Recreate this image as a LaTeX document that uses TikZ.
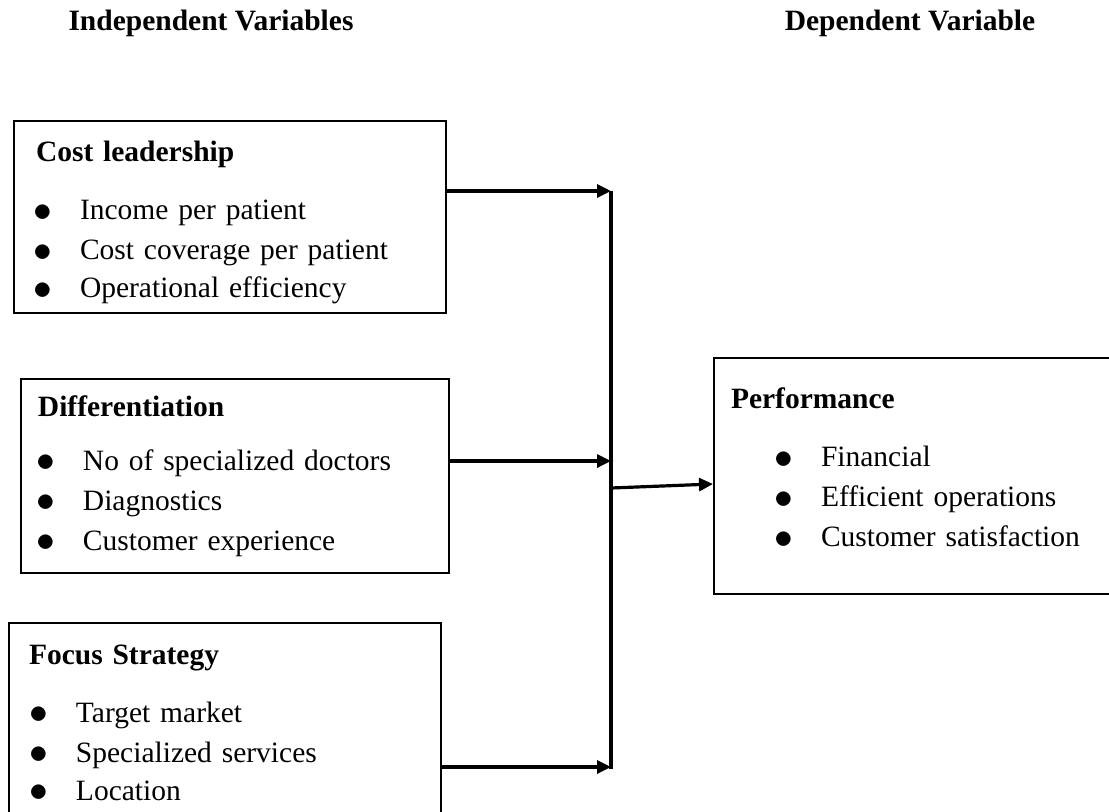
\documentclass[tikz,border=0pt]{standalone}
\usepackage{fontspec}
\setmainfont{Liberation Serif}
\usetikzlibrary{arrows.meta}
\newcommand{\itm}[2][0pt]{\hspace*{#1}\makebox[22pt][l]{\hspace*{-1.5pt}\raisebox{-0.6pt}{\scalebox{1.3}{$\bullet$}}}#2}

\begin{document}
\begin{tikzpicture}[x=0.5pt,y=-0.5pt,font=\fontsize{14.75}{20}\selectfont,
      head/.style={font=\fontsize{14.75}{20}\selectfont\bfseries,anchor=base,inner sep=0pt},
      varbox/.style={draw,line width=1pt,anchor=north west,align=left,inner ysep=0pt},
      arr/.style={-{Triangle[length=7pt,width=6.5pt]},line width=1.6pt}]
    \useasboundingbox (0,0) rectangle (1109,811);
    \node[head] (indep) at (211,30) {Independent Variables};
    \node[head] (dep) at (910,30) {Dependent Variable};
    % independent variables
    \node[varbox,text width=194pt,inner xsep=11pt,minimum height=96pt] (cost) at (13,120) {\rule{0pt}{16pt}\textbf{Cost leadership}\\[9pt]\itm{Income per patient}\\\itm{Cost coverage per patient}\\[-1pt]\itm{Operational efficiency}};
    \node[varbox,text width=197pt,inner xsep=8.5pt,minimum height=97pt] (diff) at (20,378) {\textbf{Differentiation}\\[7pt]\itm[0.5pt]{No of specialized doctors}\\\itm[0.5pt]{Diagnostics}\\\itm[0.5pt]{Customer experience}};
    \node[varbox,text width=196pt,inner xsep=10pt,minimum height=100pt] (focus) at (8,622) {\textbf{Focus Strategy}\\[9pt]\itm[1.5pt]{Target market}\\\itm[1.5pt]{Specialized services}\\[-1pt]\itm[1.5pt]{Location}};
    % dependent variable
    \node[varbox,text width=193pt,inner xsep=8.5pt,minimum height=118pt] (perf) at (713,357) {\textbf{Performance}\\[9pt]\itm[23pt]{Financial}\\\itm[23pt]{Efficient operations}\\\itm[23pt]{Customer satisfaction}\rule[-8.5pt]{0pt}{8.5pt}};
    \coordinate (top) at (611,191);
    \coordinate (in2) at (611,461);
    \coordinate (in3) at (611,767);
    \coordinate (bot) at (611,769);
    \coordinate (mid) at (611,488);
    \draw[line width=1.6pt] (top) -- (bot);
    \draw[arr] (cost.east |- top) -- (top);
    \draw[arr] (diff.east |- in2) -- (in2);
    \draw[arr] (focus.east |- in3) -- (in3);
    \draw[arr] (mid) -- ([yshift=-4pt]perf.west);
  \end{tikzpicture}
\end{document}
